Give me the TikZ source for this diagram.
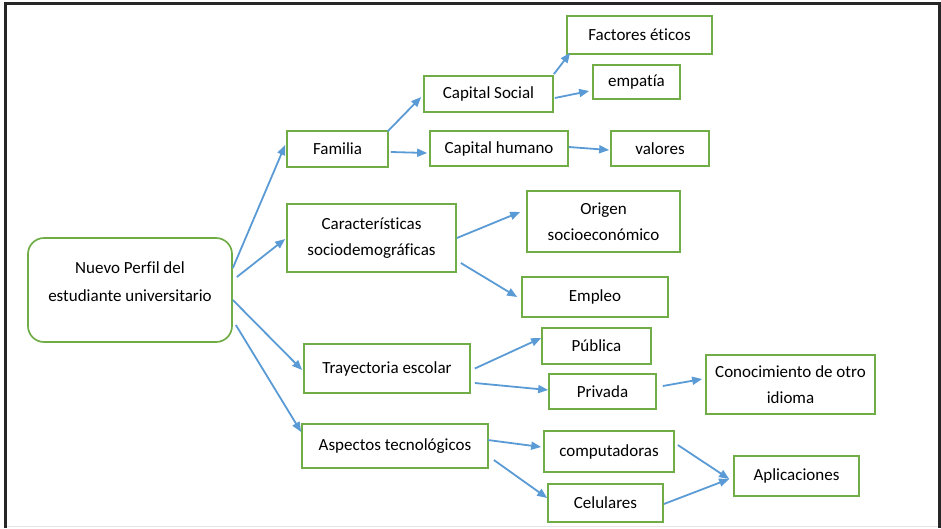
\documentclass[tikz,border=0pt]{standalone}
\usepackage{fontspec}
\setmainfont{Carlito}[Ligatures={NoCommon}]
\usetikzlibrary{arrows.meta,calc}
\definecolor{boxgreen}{RGB}{112,173,71}
\definecolor{arrblue}{RGB}{91,155,213}
\begin{document}
\begin{tikzpicture}[x=1pt,y=-1pt,
  box/.style={draw=boxgreen, line width=1.7pt, inner sep=0pt, align=center,
    font=\fontsize{17}{26}\selectfont, text=black},
  rootbox/.style={box, rounded corners=16pt},
  arr/.style={draw=arrblue, line width=1.8pt, -{Triangle[length=10pt,width=8pt]}}]
\useasboundingbox (0,0) rectangle (941,528);
% frame
\draw[black!10, line width=0.8pt] (5.5,526) -- (939.5,526);
\draw[black!85, line width=2.7pt] (5.5,528) -- (5.5,3.7) -- (939.5,3.7) -- (939.5,528);
% nodes
\node[rootbox, minimum width=204pt, minimum height=104pt,
  label={[align=center, font=\fontsize{17}{28}\selectfont, text=black, yshift=8pt]center:{Nuevo Perfil del\\estudiante universitario}}]
  (root) at (130,290) {};
\node[box, minimum width=101pt, minimum height=36pt] (familia) at (337.5,149) {Familia};
\node[box, minimum width=129pt, minimum height=36pt] (capsoc) at (488.5,94) {Capital Social};
\node[box, minimum width=138pt, minimum height=35pt] (caphum) at (499,148.5) {Capital humano};
\node[box, minimum width=145pt, minimum height=38pt] (factores) at (639.5,35) {Factores éticos};
\node[box, minimum width=87pt, minimum height=34pt] (empatia) at (636.5,82) {empatía};
\node[box, minimum width=98pt, minimum height=35pt] (valores) at (660,148.5) {valores};
\node[box, minimum width=169pt, minimum height=68pt] (caract) at (371.5,238) {Características\\sociodemográficas};
\node[box, minimum width=153pt, minimum height=61pt] (origen) at (603.5,221.5) {Origen\\socioeconómico};
\node[box, minimum width=146pt, minimum height=40pt] (empleo) at (595,297) {Empleo};
\node[box, minimum width=166pt, minimum height=49pt] (tray) at (387,368.5) {Trayectoria escolar};
\node[box, minimum width=186pt, minimum height=44pt] (aspectos) at (395,446) {Aspectos tecnológicos};
\node[box, minimum width=109pt, minimum height=36pt] (publica) at (596.5,346) {Pública};
\node[box, minimum width=107pt, minimum height=35pt] (privada) at (602.5,391.5) {Privada};
\node[box, minimum width=169pt, minimum height=59pt] (conoc) at (790.5,384.5) {Conocimiento de otro\\idioma};
\node[box, minimum width=130pt, minimum height=41pt] (comput) at (609,451.5) {computadoras};
\node[box, minimum width=115pt, minimum height=38pt] (celulares) at (605.5,503) {Celulares};
\node[box, minimum width=125pt, minimum height=40pt] (aplic) at (796.5,476) {Aplicaciones};
% arrows
\draw[arr] ($(root.east)+(0,-22)$) -- ($(familia.west)+(-1,-4)$);
\draw[arr] ($(root.east)+(4,-13)$) -- ($(caract.west)+(-1,1)$);
\draw[arr] ($(root.east)+(0,10)$) -- ($(tray.west)+(-1,1.5)$);
\draw[arr] ($(root.east)+(3,35)$) -- ($(aspectos.west)+(0,-14)$);
\draw[arr] ($(familia.north east)+(-1,1)$) -- ($(capsoc.west)+(-2,3)$);
\draw[arr] ($(familia.east)+(2,3)$) -- ($(caphum.west)+(-2,4.5)$);
\draw[arr] ($(capsoc.north east)+(0,-1)$) -- ($(factores.south west)+(4,-2)$);
\draw[arr] ($(capsoc.east)+(1,4)$) -- ($(empatia.west)+(-3,9)$);
\draw[arr] ($(caphum.east)+(0,-1.5)$) -- ($(valores.west)+(-1,1.5)$);
\draw[arr] ($(caract.east)+(0,0)$) -- ($(origen.west)+(-6,-9.5)$);
\draw[arr] ($(caract.east)+(4,25)$) -- ($(empleo.west)+(-4,0)$);
\draw[arr] ($(tray.east)+(4,0)$) -- ($(publica.west)+(0,-8)$);
\draw[arr] ($(tray.east)+(4,14.5)$) -- ($(privada.west)+(0,-1.5)$);
\draw[arr] ($(privada.east)+(6,-5.5)$) -- ($(conoc.west)+(-3,-5.5)$);
\draw[arr] ($(aspectos.east)+(-1,-6)$) -- ($(comput.west)+(-2,-4.5)$);
\draw[arr] ($(aspectos.east)+(5,14)$) -- ($(celulares.west)+(0,-5)$);
\draw[arr] ($(comput.east)+(3,-6.5)$) -- ($(aplic.west)+(-4,3)$);
\draw[arr] ($(celulares.east)+(0,1)$) -- ($(aplic.west)+(-4,3)$);
\end{tikzpicture}
\end{document}
